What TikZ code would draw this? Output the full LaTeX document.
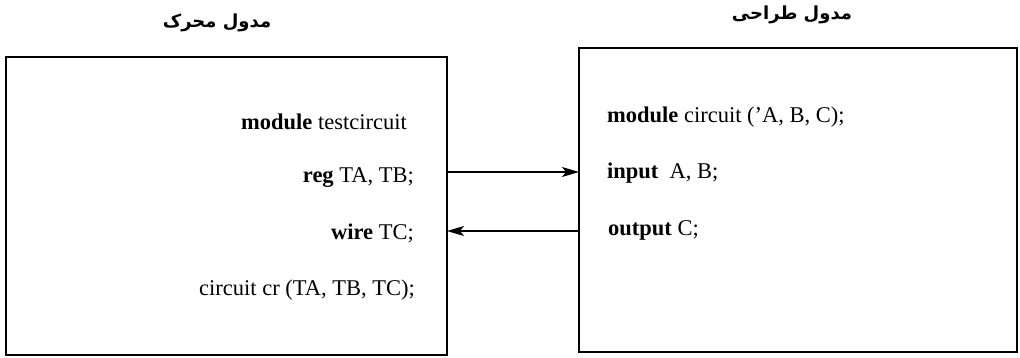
\documentclass[tikz,border=0pt]{standalone}
\usepackage{fontspec}
\setmainfont{Liberation Serif}
\newfontfamily\arabicfont[Script=Arabic]{DejaVu Sans}
\TeXXeTstate=1
\usetikzlibrary{arrows.meta}
\begin{document}
\begin{tikzpicture}[x=1pt,y=-1pt,
  boxframe/.style={draw,line width=1.8pt},
  code/.style={font=\fontsize{22.5}{26}\selectfont,inner sep=0pt},
  ttl/.style={font=\arabicfont\bfseries\fontsize{18}{22}\selectfont,inner sep=0pt},
  conn/.style={line width=1.3pt,-{Stealth[length=17pt,width=10pt,inset=4pt]}}]
\useasboundingbox (0,0) rectangle (1020,358);
\draw[boxframe] (6,57) rectangle (447,355);
\draw[boxframe] (579,48) rectangle (1017,352);
\node[ttl] (t1) at (217,23) {\beginR مدول محرک\endR};
\node[ttl] (t2) at (792,15) {\beginR مدول طراحی\endR};
\node[code,anchor=east] (l1) at (407,122) {\textbf{module} testcircuit};
\node[code,anchor=east] (l2) at (414,178) {\textbf{reg} TA, TB;};
\node[code,anchor=east] (l3) at (414,233) {\textbf{wire} TC;};
\node[code,anchor=east] (l4) at (415,290) {circuit cr (TA, TB, TC);};
\node[code,anchor=west] (r1) at (607,117) {\textbf{module} circuit ('A, B, C);};
\node[code,anchor=west] (r2) at (607,173) {\textbf{input}\ \ A, B;};
\node[code,anchor=west] (r3) at (608,230) {\textbf{output} C;};
\coordinate (a1s) at (447,172);
\coordinate (a1e) at (579,172);
\coordinate (a2s) at (579,231);
\coordinate (a2e) at (447,231);
\draw[conn] (a1s) -- (a1e);
\draw[conn] (a2s) -- (a2e);
\end{tikzpicture}
\end{document}
